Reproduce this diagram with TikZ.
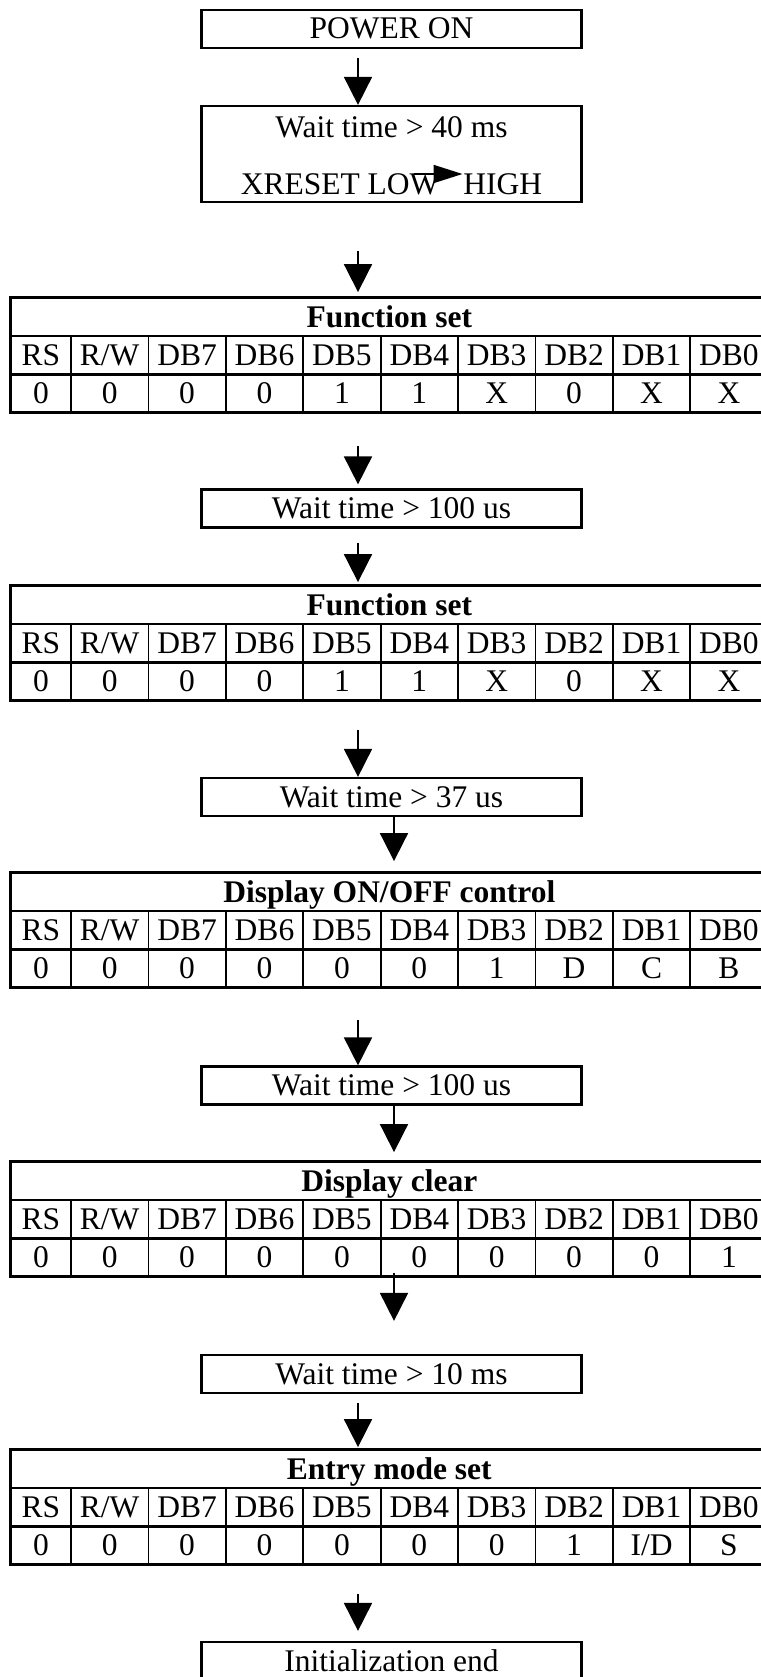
\documentclass[tikz,border=0pt]{standalone}
\usepackage{fontspec}
\setmainfont{Liberation Serif}
\usepackage{tikz}
\usetikzlibrary{arrows.meta}

\newcommand{\chartfont}{\fontsize{31.5}{36}\selectfont}

% one command register table: #1 name, #2 top, #3 title, #4 bit values
\newcommand{\regtable}[4]{%
  \node[titlecell] (#1) at (389.3,#2+19) {#3};
  \foreach \lbl [count=\i from 0] in {RS,R/W,DB7,DB6,DB5,DB4,DB3,DB2,DB1,DB0}{
    \pgfmathsetmacro\cx{\i==0 ? 41 : 71+77.4*(\i-0.5)}
    \pgfmathsetmacro\cw{\i==0 ? 60 : 77.4}
    \node[cell, minimum width=\cw pt] (#1-h\i) at (\cx,#2+57) {\lbl};
  }
  \foreach \val [count=\i from 0] in {#4}{
    \pgfmathsetmacro\cx{\i==0 ? 41 : 71+77.4*(\i-0.5)}
    \pgfmathsetmacro\cw{\i==0 ? 60 : 77.4}
    \node[cell, minimum width=\cw pt] (#1-v\i) at (\cx,#2+95) {\val};
  }
  \draw[tblframe] (#1.north west) rectangle (#1-v9.south east);
  \draw[tblframe] (#1-h0.south west) -- (#1-h9.south east);
  \coordinate (#1-bot) at (#1-v9.south -| #1.south);
}

\begin{document}
\begin{tikzpicture}[x=1pt,y=-1pt,
    stepbox/.style={draw,line width=2.2pt,minimum width=380pt,minimum height=38pt,inner sep=0pt,
      font=\chartfont,text height=23pt,text depth=3pt},
    txt/.style={inner sep=0pt,font=\chartfont,text height=23pt,text depth=3pt},
    cell/.style={draw,line width=1.8pt,minimum height=38pt,inner sep=0pt,
      font=\chartfont,text height=23pt,text depth=3pt},
    titlecell/.style={cell,minimum width=756.6pt,font=\chartfont\bfseries},
    tblframe/.style={line width=2.4pt},
    flow/.style={line width=1.8pt,-{Triangle[width=28pt,length=28pt]}}]
  \useasboundingbox (0,0) rectangle (760,1677);

  %% Steps
  \node[stepbox] (pwr) at (391.5,29) {POWER ON};
  \node[stepbox,minimum height=96pt] (w40) at (391.5,154) {};
  \node[txt] (w40t) at (391.5,128) {Wait time \textgreater{} 40 ms};
  \node[txt] (xrst) at (391.5,185) {XRESET LOW\hspace{24pt}HIGH};
  \draw[line width=1.8pt,-{Triangle[width=18pt,length=29pt]}]
    ([xshift=22pt,yshift=11pt]xrst.center) -- ([xshift=71pt,yshift=11pt]xrst.center);

  \regtable{fs1}{298}{Function set}{0,0,0,0,1,1,X,0,X,X}
  \node[stepbox] (w100a) at (391.5,508.5) {Wait time \textgreater{} 100 us};
  \regtable{fs2}{586}{Function set}{0,0,0,0,1,1,X,0,X,X}
  \node[stepbox] (w37) at (391.5,797) {Wait time \textgreater{} 37 us};
  \regtable{doo}{873}{Display ON/OFF control}{0,0,0,0,0,0,1,D,C,B}
  \node[stepbox] (w100b) at (391.5,1085.5) {Wait time \textgreater{} 100 us};
  \regtable{dcl}{1162}{Display clear}{0,0,0,0,0,0,0,0,0,1}
  \node[stepbox] (w10) at (391.5,1374) {Wait time \textgreater{} 10 ms};
  \regtable{ems}{1450}{Entry mode set}{0,0,0,0,0,0,0,1,I/D,S}
  \node[stepbox] (init) at (391.5,1661) {Initialization end};

  %% Flow
  \draw[flow] ([xshift=-33.5pt,yshift=-9pt]pwr.south) -- ([xshift=-33.5pt]w40.north);
  \draw[flow] ([xshift=-33.5pt,yshift=-48pt]w40.south) -- ([xshift=-31.3pt,yshift=5pt]fs1.north);
  \draw[flow] ([xshift=-31.3pt,yshift=-33pt]fs1-bot) -- ([xshift=-33.5pt,yshift=4pt]w100a.north);
  \draw[flow] ([xshift=-33.5pt,yshift=-14pt]w100a.south) -- ([xshift=-31.3pt,yshift=3pt]fs2.north);
  \draw[flow] ([xshift=-31.3pt,yshift=-29pt]fs2-bot) -- ([xshift=-33.5pt]w37.north);
  \draw[flow] ([xshift=2.5pt]w37.south) -- ([xshift=4.7pt,yshift=11pt]doo.north);
  \draw[flow] ([xshift=-31.3pt,yshift=-32pt]doo-bot) -- ([xshift=-33.5pt]w100b.north);
  \draw[flow] ([xshift=2.5pt]w100b.south) -- ([xshift=4.7pt,yshift=9pt]dcl.north);
  \draw[flow] ([xshift=4.7pt,yshift=4pt]dcl-bot) -- ([xshift=2.5pt,yshift=33pt]w10.north);
  \draw[flow] ([xshift=-33.5pt,yshift=-9pt]w10.south) -- ([xshift=-31.3pt,yshift=2pt]ems.north);
  \draw[flow] ([xshift=-31.3pt,yshift=-29pt]ems-bot) -- ([xshift=-33.5pt,yshift=10pt]init.north);
\end{tikzpicture}
\end{document}
